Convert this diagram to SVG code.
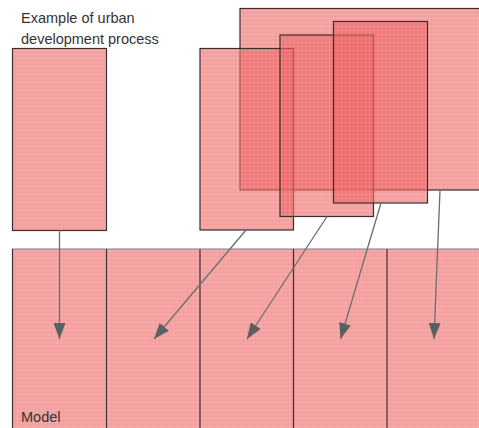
<svg xmlns="http://www.w3.org/2000/svg" width="479" height="428" viewBox="0 0 479 428">
<defs>
<pattern id="tex" width="8" height="8" patternUnits="userSpaceOnUse">
<rect width="8" height="8" fill="#ec6464"/>
<rect x="1" y="0" width="1" height="8" fill="#ffffff" opacity="0.12"/>
<rect x="5" y="0" width="1" height="8" fill="#ffffff" opacity="0.1"/>
<rect x="0" y="2" width="8" height="1" fill="#ffffff" opacity="0.12"/>
<rect x="0" y="6" width="8" height="1" fill="#ffffff" opacity="0.1"/>
</pattern>
<marker id="ah" markerWidth="16" markerHeight="12" refX="16" refY="6" orient="auto" markerUnits="userSpaceOnUse">
<path d="M0,0 L16,6 L0,12 Z" fill="#586060"/>
</marker>
<style>
.n{fill:url(#tex);fill-opacity:0.62;stroke:#3a2e2e;stroke-width:1.2}
.b{fill:url(#tex);fill-opacity:0.62;stroke:none}
.d{stroke:#3a3030;stroke-width:1.2}
.c{stroke:#6a6e6e;stroke-width:1.3;fill:none;marker-end:url(#ah)}
.t{font-family:"Liberation Sans",Arial,sans-serif;font-size:14.5px;fill:#333}
</style>
</defs>
<g id="model">
<rect class="b" x="12" y="249" width="467" height="179"/>
<line x1="12" y1="249" x2="479" y2="249" stroke="#808080" stroke-width="1.2"/>
<line class="d" x1="12.5" y1="249" x2="12.5" y2="428" stroke="#707070"/>
<line class="d" x1="106.5" y1="249" x2="106.5" y2="428"/>
<line class="d" x1="200" y1="249" x2="200" y2="428"/>
<line class="d" x1="293.5" y1="249" x2="293.5" y2="428"/>
<line class="d" x1="387" y1="249" x2="387" y2="428"/>
<text class="t" x="21" y="422">Model</text>
</g>
<g id="title"><text class="t" x="21" y="23">Example of urban</text><text class="t" x="21" y="44">development process</text></g>
<g id="stage1"><rect class="n" x="12.5" y="48.5" width="94" height="182"/></g>
<g id="stage5"><rect class="n" x="240" y="8.5" width="245" height="181.5"/></g>
<g id="stage2"><rect class="n" x="200" y="48.5" width="93.5" height="181.5"/></g>
<g id="stage3"><rect class="n" x="280" y="35" width="93.5" height="181.5"/></g>
<g id="stage4"><rect class="n" x="333.5" y="21.5" width="94" height="181.5"/></g>
<g id="connectors">
<line class="c" x1="59.5" y1="230" x2="59.5" y2="339"/>
<line class="c" x1="246" y1="230" x2="154" y2="339"/>
<line class="c" x1="327" y1="216.5" x2="247" y2="339"/>
<line class="c" x1="381" y1="203" x2="340.5" y2="339"/>
<line class="c" x1="440" y1="190" x2="434" y2="339"/>
</g>
</svg>
